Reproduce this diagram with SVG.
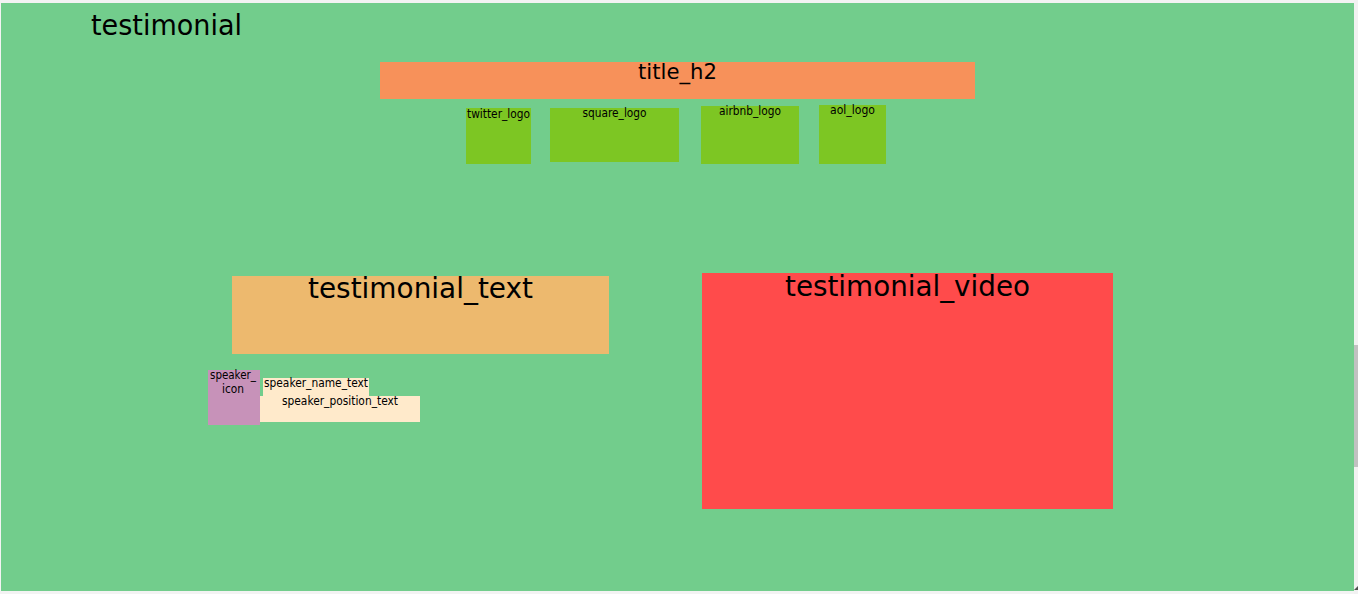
<svg xmlns="http://www.w3.org/2000/svg" width="1358" height="594" viewBox="0 0 1358 594">
<style>
text{font-family:"DejaVu Sans","Liberation Sans",sans-serif;fill:#000}
.big{font-size:28px}
.mid{font-size:22px}
.sm{font-size:12px}
.c{text-anchor:middle}
</style>
<rect x="0" y="0" width="1358" height="594" fill="#f3f3f3"/>
<g id="testimonial">
<rect x="1" y="3" width="1353" height="588" fill="#72cd8c"/>
<text x="91" y="35" style="font-size:28px" textLength="151" lengthAdjust="spacingAndGlyphs">testimonial</text>
</g>
<g id="scrollbar">
<rect x="1354" y="0" width="4" height="594" fill="#f1f1f1"/>
<rect x="1354" y="345" width="4" height="122" fill="#c1c1c1"/>
<path d="M1354 590 L1358 586 L1358 590 Z" fill="#505050"/>
</g>
<g id="title_h2">
<rect x="380" y="62" width="595" height="37" fill="#f7915a"/>
<text class="mid c" x="677.5" y="79" textLength="79" lengthAdjust="spacingAndGlyphs">title_h2</text>
</g>
<g id="twitter_logo">
<rect x="466" y="108" width="65" height="56" fill="#7dc623"/>
<text class="sm c" x="498.5" y="118" textLength="63" lengthAdjust="spacingAndGlyphs">twitter_logo</text>
</g>
<g id="square_logo">
<rect x="550" y="108" width="129" height="54" fill="#7dc623"/>
<text class="sm c" x="614.5" y="117" textLength="64" lengthAdjust="spacingAndGlyphs">square_logo</text>
</g>
<g id="airbnb_logo">
<rect x="701" y="106" width="98" height="58" fill="#7dc623"/>
<text class="sm c" x="750" y="115" textLength="62" lengthAdjust="spacingAndGlyphs">airbnb_logo</text>
</g>
<g id="aol_logo">
<rect x="819" y="105" width="67" height="59" fill="#7dc623"/>
<text class="sm c" x="852.5" y="114" textLength="45" lengthAdjust="spacingAndGlyphs">aol_logo</text>
</g>
<g id="testimonial_text">
<rect x="232" y="276" width="377" height="78" fill="#edb96e"/>
<text class="big c" x="420.5" y="298" textLength="225" lengthAdjust="spacingAndGlyphs">testimonial_text</text>
</g>
<g id="testimonial_video">
<rect x="702" y="273" width="411" height="236" fill="#ff4b4b"/>
<text class="big c" x="907.5" y="296" textLength="245" lengthAdjust="spacingAndGlyphs">testimonial_video</text>
</g>
<g id="speaker_icon">
<rect x="208" y="370" width="52" height="55" fill="#c792b9"/>
<text class="sm c" x="233" y="379" textLength="46" lengthAdjust="spacingAndGlyphs">speaker_</text>
<text class="sm c" x="233" y="393" textLength="22" lengthAdjust="spacingAndGlyphs">icon</text>
</g>
<g id="speaker_name_text">
<rect x="263" y="378" width="106" height="18" fill="#ffeacb"/>
<text class="sm" x="264" y="387" textLength="104" lengthAdjust="spacingAndGlyphs">speaker_name_text</text>
</g>
<g id="speaker_position_text">
<rect x="260" y="396" width="160" height="26" fill="#ffeacb"/>
<text class="sm c" x="340" y="405" textLength="116" lengthAdjust="spacingAndGlyphs">speaker_position_text</text>
</g>
<g id="connectors"/>
</svg>
